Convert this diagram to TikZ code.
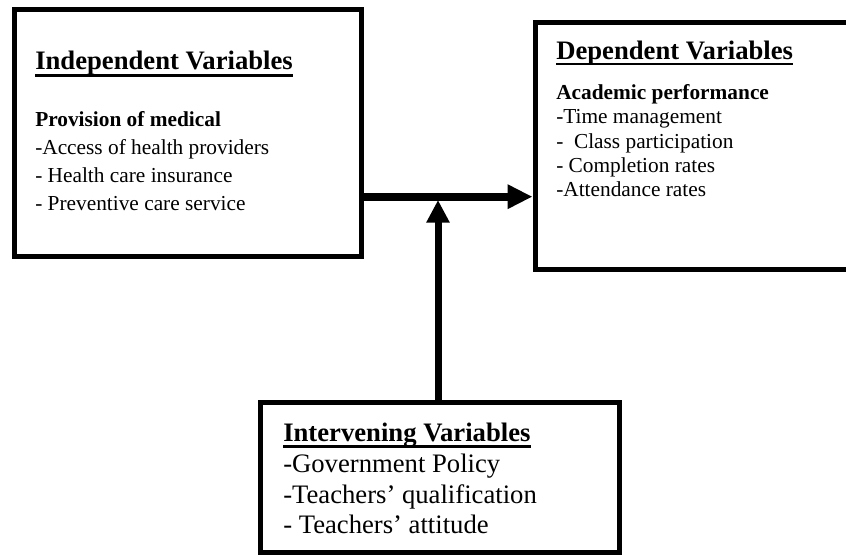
\documentclass[tikz,border=0pt]{standalone}
\usepackage{fontspec}
\setmainfont{Liberation Serif}
\usetikzlibrary{arrows.meta,fit}
\begin{document}
\begin{tikzpicture}[x=0.75pt,y=-0.75pt,
  box/.style={draw, line width=3.75pt, inner sep=0pt},
  head/.style={anchor=base west, inner sep=0pt, font=\fontsize{20}{24}\selectfont\bfseries},
  sub/.style={anchor=base west, inner sep=0pt, font=\fontsize{16}{19}\selectfont\bfseries},
  txt/.style={anchor=base west, inner sep=0pt, font=\fontsize{16}{19}\selectfont},
  big/.style={anchor=base west, inner sep=0pt, font=\fontsize{20}{24}\selectfont},
  uline/.style={line width=2pt},
  arrh/.style={line width=6pt, -{Triangle[length=18.75pt,width=17.25pt]}},
  arrv/.style={line width=5.25pt, -{Triangle[length=17pt,width=16.5pt]}}]
\useasboundingbox (0,0) rectangle (846,555);
\clip (0,0) rectangle (846,555);

% boxes
\node[box, fit={(14,10) (361.5,256.5)}] (ind) {};
\node[box, fit={(535,22.5) (870,269.5)}] (dep) {};
\node[box, fit={(260.5,402.5) (619.5,552.5)}] (iv) {};

% independent
\node[head] (h1) at (35,69.5) {Independent Variables};
\draw[uline] ([yshift=-4.5pt]h1.base west) -- ([yshift=-4.5pt]h1.base east);
\node[sub] (i0) at (35,126.7) {Provision of medical};
\node[txt] (i1) at (35,154.7) {-Access of health providers};
\node[txt] (i2) at (35,182.7) {- Health care insurance};
\node[txt] (i3) at (35,210.7) {- Preventive care service};

% dependent
\node[head] (h2) at (556,59.5) {Dependent Variables};
\draw[uline] ([yshift=-3.5pt]h2.base west) -- ([yshift=-3.5pt]h2.base east);
\node[sub] (d0) at (556,100) {Academic performance};
\node[txt] (d1) at (556,123.3) {-Time management};
\node[txt] (d2) at (556,148.3) {-\ \ Class participation};
\node[txt] (d3) at (556,172.7) {- Completion rates};
\node[txt] (d4) at (556,196.7) {-Attendance rates};

% intervening
\node[head] (h3) at (283,441.7) {Intervening Variables};
\draw[uline] ([yshift=-3.5pt]h3.base west) -- ([yshift=-3.5pt]h3.base east);
\node[big] (v1) at (283,472.7) {-Government Policy};
\node[big] (v2) at (283,503.3) {-Teachers’ qualification};
\node[big] (v3) at (283,533.3) {- Teachers’ attitude};

% connectors
\coordinate (j) at (438,196.7);
\coordinate (vt) at (438,200);
\draw[arrh] (ind.east |- j) -- (dep.west |- j);
\draw[arrv] (iv.north -| vt) -- (vt);
\end{tikzpicture}
\end{document}
